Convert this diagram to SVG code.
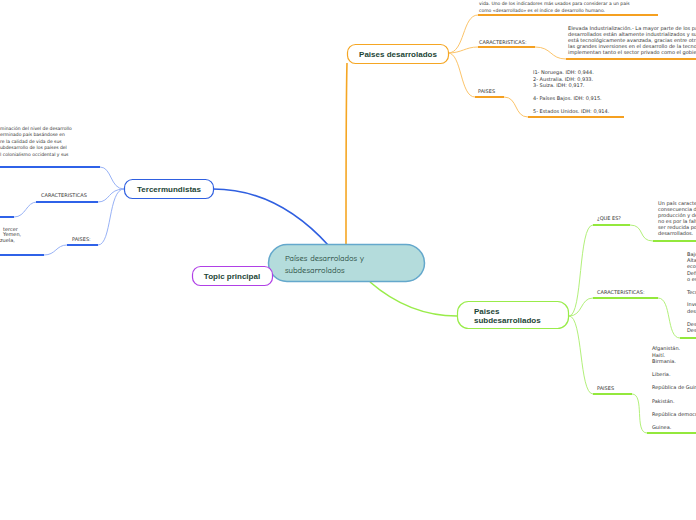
<svg xmlns="http://www.w3.org/2000/svg" width="696" height="520" viewBox="0 0 696 520">
<style>
.t{font-family:"DejaVu Sans","Liberation Sans",sans-serif;font-size:5px;fill:#333}
.s{font-size:4.5px}
.nb{font-family:"Liberation Sans",Arial,sans-serif;font-size:8px;font-weight:bold;fill:#1d4536}
.c{font-family:"Comic Neue","DejaVu Sans",sans-serif;font-size:8.6px;fill:#1d4536}
.bo{fill:none;stroke:#fcc46a;stroke-width:1}
.uo{fill:none;stroke:#f5a020;stroke-width:2}
.bb{fill:none;stroke:#98b2f6;stroke-width:1}
.ub{fill:none;stroke:#2f62e8;stroke-width:2}
.bg{fill:none;stroke:#b2f07a;stroke-width:1}
.ug{fill:none;stroke:#93e83c;stroke-width:2}
</style>
<rect width="696" height="520" fill="#ffffff"/>
<g id="connectors">
<path d="M213,189 C262,189 300,214 329,246" fill="none" stroke="#2f5fe0" stroke-width="1.6"/>
<path d="M346,245 C346,170 346,100 347,63" fill="none" stroke="#f5a623" stroke-width="1.6"/>
<path d="M370,282 C400,308 430,316 457,316" fill="none" stroke="#99ec4a" stroke-width="1.6"/>
<path class="bo" d="M448,53 C465,53 462,15 478,15"/>
<path class="bo" d="M448,53 C462,53 465,47 478,47"/>
<path class="bo" d="M448,53 C462,53 460,97 475,97"/>
<path class="bo" d="M535,47 C552,47 550,59 566,59"/>
<path class="bo" d="M504,97 C518,97 514,117 528,117"/>
<line class="uo" x1="478" y1="15" x2="658" y2="15"/>
<line class="uo" x1="478" y1="47" x2="535" y2="47"/>
<line class="uo" x1="566" y1="59" x2="696" y2="59"/>
<line class="uo" x1="475" y1="97" x2="504" y2="97"/>
<line class="uo" x1="528" y1="117" x2="624" y2="117"/>
<path class="bb" d="M124,189 C110,189 112,167 100,167"/>
<path class="bb" d="M124,189 C108,189 110,202 98,202"/>
<path class="bb" d="M124,189 C108,189 112,245 98,245"/>
<path class="bb" d="M37,202 C26,202 26,217 14,217"/>
<path class="bb" d="M67,245 C56,245 56,255 44,255"/>
<line class="ub" x1="0" y1="167" x2="100" y2="167"/>
<line class="ub" x1="36" y1="202" x2="98" y2="202"/>
<line class="ub" x1="0" y1="217" x2="14" y2="217"/>
<line class="ub" x1="67" y1="245" x2="98" y2="245"/>
<line class="ub" x1="0" y1="255" x2="44" y2="255"/>
<path class="bg" d="M569,316 C583,316 578,225 593,225"/>
<path class="bg" d="M569,316 C583,316 580,298 593,298"/>
<path class="bg" d="M569,316 C583,316 579,394 593,394"/>
<path class="bg" d="M630,225 C645,225 638,241 653,241"/>
<path class="bg" d="M658,298 C672,298 666,338 680,338"/>
<path class="bg" d="M632,394 C645,394 634,433 647,433"/>
<line class="ug" x1="593" y1="225" x2="630" y2="225"/>
<line class="ug" x1="653" y1="241" x2="696" y2="241"/>
<line class="ug" x1="593" y1="298" x2="658" y2="298"/>
<line class="ug" x1="680" y1="338" x2="696" y2="338"/>
<line class="ug" x1="593" y1="394" x2="632" y2="394"/>
<line class="ug" x1="647" y1="433" x2="696" y2="433"/>
</g>
<g id="central">
<rect x="268.5" y="244.5" width="156" height="37" rx="18.5" fill="#b4dcdc" stroke="#64a8cc" stroke-width="1.5"/>
<text class="c" x="285" y="261" font-size="9">Países desarrolados y</text>
<text class="c" x="285" y="273" font-size="9">subdesarrolados</text>
</g>
<g id="topic">
<rect x="192.5" y="266.5" width="80" height="19" rx="8" fill="#ffffff" stroke="#b040e6" stroke-width="1.2"/>
<text class="nb" x="232" y="279" text-anchor="middle">Topic principal</text>
</g>
<g id="tercermundistas">
<rect x="124.5" y="179.5" width="89" height="19" rx="8" fill="#ffffff" stroke="#2f5fe0" stroke-width="1.2"/>
<text class="nb" x="169" y="192" text-anchor="middle">Tercermundistas</text>
<text class="t s" x="0" y="129.5">minación del nivel de desarrollo</text>
<text class="t s" x="0" y="136">erminado país basándose en</text>
<text class="t s" x="0" y="142.5">re la calidad de vida de sus</text>
<text class="t s" x="0" y="149">ubdesarrollo de los países del</text>
<text class="t s" x="0" y="155.5">l colonialismo occidental y sus</text>
<text class="t" x="41" y="197">CARACTERISTICAS</text>
<text class="t" x="72" y="241">PAISES:</text>
<text class="t" x="3" y="230.5">tercer</text>
<text class="t" x="3" y="236">Yemen,</text>
<text class="t" x="0" y="241.5">zuela,</text>
</g>
<g id="desarrollados">
<rect x="347.5" y="44.5" width="101" height="19" rx="8" fill="#ffffff" stroke="#f5a623" stroke-width="1.2"/>
<text class="nb" x="398" y="57" text-anchor="middle">Paises desarrolados</text>
<text class="t s" x="479" y="5">vida. Uno de los indicadores más usados para considerar a un país</text>
<text class="t s" x="479" y="12">como «desarrollado» es el índice de desarrollo humano.</text>
<text class="t" x="479" y="43.5">CARACTERISTICAS:</text>
<text class="t" x="568" y="30">Elevada Industrialización.- La mayor parte de los países</text>
<text class="t" x="568" y="36">desarrollados están altamente industrializados y su industria</text>
<text class="t" x="568" y="42">está tecnológicamente avanzada, gracias entre otras cosas a</text>
<text class="t" x="568" y="48">las grandes inversiones en el desarrollo de la tecnología que</text>
<text class="t" x="568" y="54">implementan tanto el sector privado como el gobierno</text>
<text class="t" x="478" y="93">PAISES</text>
<text class="t" x="533" y="74">l1- Noruega. IDH: 0,944.</text>
<text class="t" x="533" y="80.5">2- Australia. IDH: 0,933.</text>
<text class="t" x="533" y="87">3- Suiza. IDH: 0,917.</text>
<text class="t" x="533" y="100">4- Países Bajos. IDH: 0,915.</text>
<text class="t" x="533" y="113">5- Estados Unidos. IDH: 0,914.</text>
</g>
<g id="subdesarrollados">
<rect x="457.5" y="301.5" width="111" height="27" rx="11" fill="#ffffff" stroke="#99ec4a" stroke-width="1.2"/>
<text class="nb" x="474" y="313.5">Paises</text>
<text class="nb" x="474" y="322.5">subdesarrollados</text>
<text class="t" x="597" y="220">¿QUE ES?</text>
<text class="t" x="658" y="205">Un país caracterizado</text>
<text class="t" x="658" y="211">consecuencia de</text>
<text class="t" x="658" y="217">producción y de</text>
<text class="t" x="658" y="223">no es por la falta</text>
<text class="t" x="658" y="229">ser reducida por</text>
<text class="t" x="658" y="235">desarrollados.</text>
<text class="t" x="597" y="294">CARACTERISTICAS:</text>
<text class="t" x="687" y="256">Bajo</text>
<text class="t" x="687" y="262">Alta</text>
<text class="t" x="687" y="268">economía</text>
<text class="t" x="687" y="274.5">Deficiencia</text>
<text class="t" x="687" y="280.5">o escasez</text>
<text class="t" x="687" y="293.5">Tecnología</text>
<text class="t" x="687" y="306">Inversión</text>
<text class="t" x="687" y="312.5">desarrollo</text>
<text class="t" x="687" y="326">Desempleo</text>
<text class="t" x="687" y="332">Desnutrición</text>
<text class="t" x="597" y="389.5">PAISES</text>
<text class="t" x="652" y="350">Afganistán.</text>
<text class="t" x="652" y="356.5">Haití.</text>
<text class="t" x="652" y="363">Birmania.</text>
<text class="t" x="652" y="376">Liberia.</text>
<text class="t" x="652" y="389">República de Guinea-Bisáu.</text>
<text class="t" x="652" y="402.5">Pakistán.</text>
<text class="t" x="652" y="415.5">República democrática del Congo.</text>
<text class="t" x="652" y="428.5">Guinea.</text>
</g>
</svg>
